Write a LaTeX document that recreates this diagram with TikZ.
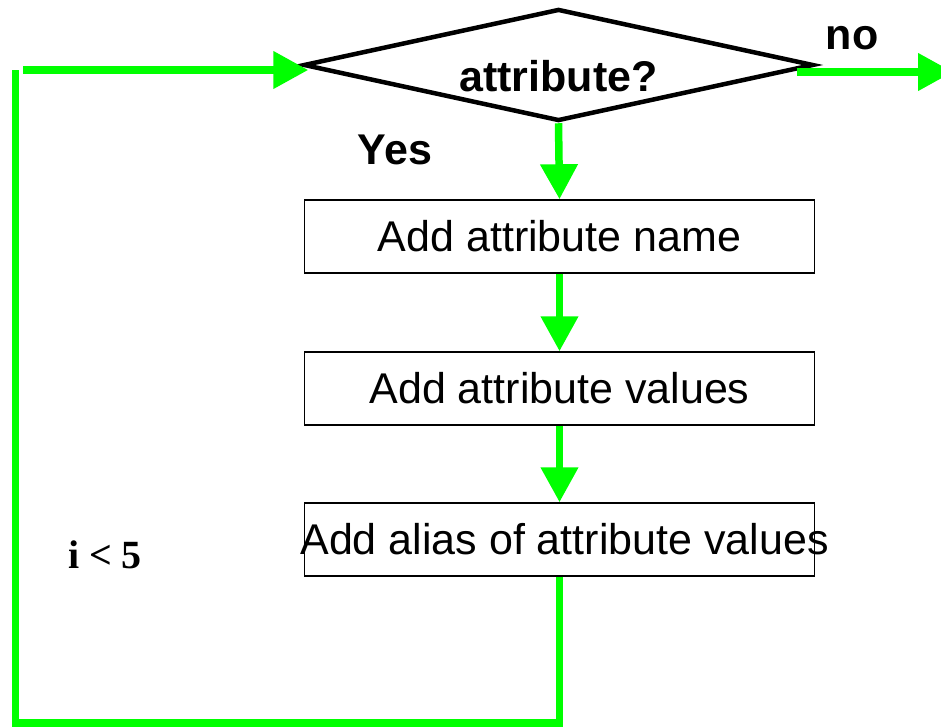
\documentclass[tikz,border=0pt]{standalone}
\usepackage{fontspec}
\setmainfont{Liberation Sans}
\newfontfamily\timesfont{Liberation Serif}
\usetikzlibrary{shapes.geometric,arrows.meta,calc}
\definecolor{flowgreen}{RGB}{0,255,0}
\begin{document}
\begin{tikzpicture}[x=1pt,y=-1pt,
  flowline/.style={draw=flowgreen, line width=7.5pt},
  flowarrow/.style={flowline, -{Triangle[length=35pt,width=36pt]}},
  stepbox/.style={draw, line width=1.5pt, minimum width=510pt, minimum height=73pt,
    inner sep=0pt, font=\fontsize{43}{48}\selectfont},
  decision/.style={diamond, draw, line width=4.5pt, minimum width=510pt,
    minimum height=112pt, inner sep=0pt},
  lbl/.style={anchor=base, inner sep=0pt, font=\fontsize{43}{48}\selectfont\bfseries}]

\useasboundingbox (0,0) rectangle (941,727);
\fill[white] (0,0) rectangle (941,727);

% decision and process steps
\node[decision] (dec) at (558.5,65) {};
\node[lbl] (q) at (558.5,92) {attribute?};
\node[stepbox] (name) at (559.5,236.5) {Add attribute name};
\node[stepbox] (vals) at (559.5,388.5) {Add attribute values};
\node[stepbox] (alias) at (559.5,539.5) {\makebox[0pt]{\hspace*{10pt}Add alias of attribute values}};

% labels
\node[lbl] (yes) at (395,165) {Yes};
\node[lbl] (no) at (852,50) {no};
\node[anchor=base, inner sep=0pt, font=\timesfont\bfseries\fontsize{40}{44}\selectfont] (cond) at (105,568) {i < 5};

% main flow
\draw[flowarrow] (dec.south) -- (name.north);
\draw[flowarrow] (name.south) -- (vals.north);
\draw[flowarrow] (vals.south) -- (alias.north);

% loop back to the decision
\coordinate (bl) at (15.5,723);
\coordinate (lt) at (15.5,70);
\coordinate (ls) at (23,70);
\draw[flowline] (alias.south) |- (bl) -- (lt);
\draw[flowarrow] (ls) -- ($(dec.west)+(7,5)$);

% exit
\coordinate (ne) at (953,72);
\draw[flowarrow] ($(dec.east)+(-19,7)$) -- (ne);
\end{tikzpicture}
\end{document}
